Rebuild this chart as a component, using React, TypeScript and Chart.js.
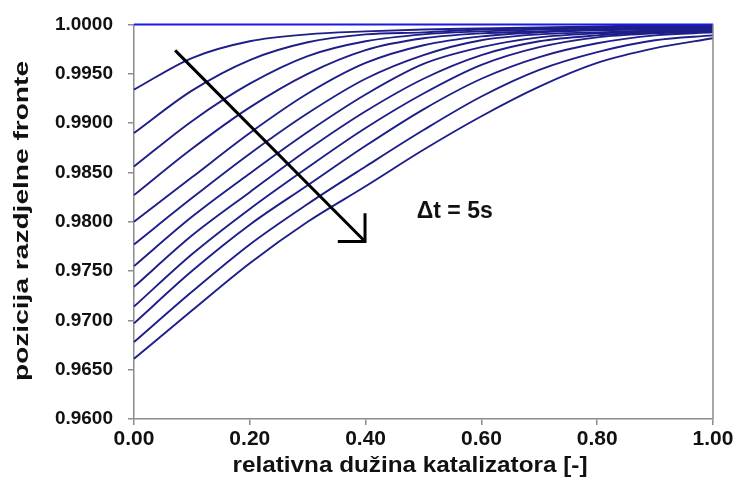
import React, { useEffect, useRef } from 'react';
import Chart from 'chart.js/auto';

// relative catalyst length positions
const xPositions = [0, 0.1, 0.2, 0.3, 0.4, 0.5, 0.6, 0.7, 0.8, 0.9, 1.0];

// front position curves, one per time step (Δt = 5 s)
const curveT0 = [1.0, 1.0, 1.0, 1.0, 1.0, 1.0, 1.0, 1.0, 1.0, 1.0, 1.0];
const curveT1 = [0.9934, 0.9966, 0.9983, 0.999, 0.9993, 0.9995, 0.9996, 0.9997, 0.9998, 0.9999, 0.9999];
const curveT2 = [0.989, 0.9933, 0.9964, 0.9982, 0.999, 0.9992, 0.9995, 0.9996, 0.9997, 0.9998, 0.9998];
const curveT3 = [0.9856, 0.9902, 0.994, 0.9968, 0.9983, 0.999, 0.9993, 0.9995, 0.9996, 0.9997, 0.9998];
const curveT4 = [0.9827, 0.9874, 0.9916, 0.995, 0.9974, 0.9986, 0.9991, 0.9993, 0.9995, 0.9996, 0.9997];
const curveT5 = [0.98, 0.9845, 0.989, 0.993, 0.9961, 0.9979, 0.9988, 0.9992, 0.9994, 0.9995, 0.9997];
const curveT6 = [0.9777, 0.9824, 0.9869, 0.991, 0.9945, 0.9969, 0.9984, 0.999, 0.9992, 0.9994, 0.9996];
const curveT7 = [0.9755, 0.9805, 0.9849, 0.9891, 0.9929, 0.996, 0.9977, 0.9987, 0.9991, 0.9993, 0.9995];
const curveT8 = [0.9734, 0.9786, 0.983, 0.9873, 0.9912, 0.9945, 0.9969, 0.9983, 0.9989, 0.9992, 0.9994];
const curveT9 = [0.9714, 0.9767, 0.9813, 0.9855, 0.9895, 0.993, 0.9959, 0.9977, 0.9987, 0.9991, 0.9993];
const curveT10 = [0.9697, 0.975, 0.9797, 0.9837, 0.9877, 0.9914, 0.9945, 0.9967, 0.9981, 0.9989, 0.9992];
const curveT11 = [0.9678, 0.9729, 0.9777, 0.9818, 0.9856, 0.9893, 0.9927, 0.9954, 0.9972, 0.9984, 0.9989];
const curveT12 = [0.9661, 0.971, 0.9758, 0.98, 0.9836, 0.9873, 0.9907, 0.9937, 0.9961, 0.9976, 0.9986];

const curves = [curveT0, curveT1, curveT2, curveT3, curveT4, curveT5, curveT6, curveT7, curveT8, curveT9, curveT10, curveT11, curveT12];

const yMin = 0.96;
const yMax = 1.0;
const yStep = 0.005;
const xMin = 0;
const xMax = 1;
const xStep = 0.2;

const xTitle = 'relativna dužina katalizatora [-]';
const yTitle = 'pozicija razdjelne fronte';
const annotationText = '\u0394t = 5s';

// arrow in data coordinates
const arrowStart = { x: 0.071, y: 0.99738 };
const arrowEnd = { x: 0.399, y: 0.978 };
const arrowHeadLeftX = 0.352;
const arrowHeadTopY = 0.98085;
const textPos = { x: 0.554, y: 0.981 };

const FONT = '"Liberation Sans", Arial, Helvetica, sans-serif';

function drawStretched(ctx: CanvasRenderingContext2D, text: string, cx: number, cy: number, font: string, targetLen: number, rotate: boolean) {
  ctx.save();
  ctx.font = font;
  const w = ctx.measureText(text).width;
  const s = targetLen / w;
  ctx.translate(cx, cy);
  if (rotate) ctx.rotate(-Math.PI / 2);
  ctx.scale(s, 1);
  ctx.textAlign = 'center';
  ctx.textBaseline = 'middle';
  ctx.fillText(text, 0, 0);
  ctx.restore();
}

export default function App() {
  const canvasRef = useRef<HTMLCanvasElement | null>(null);

  useEffect(() => {
    document.body.style.margin = '0';
    const canvas = canvasRef.current;
    if (!canvas) return;

    const overlay = {
      id: 'overlay',
      afterDatasetsDraw(chart: any) {
        const { ctx, chartArea, scales } = chart;
        const xs = scales.x;
        const ys = scales.y;
        ctx.save();
        // frame right side
        ctx.strokeStyle = '#8c8c8c';
        ctx.lineWidth = 1.5;
        ctx.beginPath();
        ctx.moveTo(chartArea.right, chartArea.top);
        ctx.lineTo(chartArea.right, chartArea.bottom);
        ctx.stroke();
        // arrow
        ctx.strokeStyle = '#000';
        ctx.lineWidth = 3;
        ctx.lineCap = 'butt';
        ctx.beginPath();
        ctx.moveTo(xs.getPixelForValue(arrowStart.x), ys.getPixelForValue(arrowStart.y));
        ctx.lineTo(xs.getPixelForValue(arrowEnd.x), ys.getPixelForValue(arrowEnd.y));
        ctx.stroke();
        ctx.lineJoin = 'miter';
        ctx.beginPath();
        ctx.moveTo(xs.getPixelForValue(arrowHeadLeftX), ys.getPixelForValue(arrowEnd.y));
        ctx.lineTo(xs.getPixelForValue(arrowEnd.x), ys.getPixelForValue(arrowEnd.y));
        ctx.lineTo(xs.getPixelForValue(arrowEnd.x), ys.getPixelForValue(arrowHeadTopY));
        ctx.stroke();
        // annotation text
        ctx.fillStyle = '#111';
        ctx.font = `bold 23px ${FONT}`;
        ctx.textAlign = 'center';
        ctx.textBaseline = 'middle';
        ctx.fillText(annotationText, xs.getPixelForValue(textPos.x), ys.getPixelForValue(textPos.y));
        // axis titles
        drawStretched(ctx, xTitle, 410, 466, `bold 22px ${FONT}`, 355, false);
        drawStretched(ctx, yTitle, 22, 221, `bold 21px ${FONT}`, 320, true);
        ctx.restore();
      },
    };

    const datasets = curves.map((c, i) => ({
      data: c.map((v, j) => ({ x: xPositions[j], y: v })),
      borderColor: i === 0 ? '#1a1ae0' : '#1e1e8a',
      borderWidth: i === 0 ? 2.2 : 1.9,
      pointRadius: 0,
      fill: false,
      cubicInterpolationMode: 'monotone' as const,
      clip: false as any,
    }));

    const chart = new Chart(canvas, {
      type: 'line',
      data: { datasets },
      options: {
        animation: false,
        responsive: false,
        maintainAspectRatio: false,
        events: [],
        layout: { padding: { top: 20, right: 28, bottom: 0, left: 0 } },
        plugins: {
          legend: { display: false },
          tooltip: { enabled: false },
        },
        scales: {
          x: {
            type: 'linear',
            min: xMin,
            max: xMax,
            afterFit(scale: any) {
              scale.height = 84;
            },
            ticks: {
              stepSize: xStep,
              callback: (v: any) => Number(v).toFixed(2),
              color: '#111',
              font: { family: FONT, size: 21, weight: 'bold' },
              padding: 2,
              maxRotation: 0,
            },
            grid: {
              drawOnChartArea: false,
              drawTicks: true,
              tickLength: 6,
              color: '#8c8c8c',
              lineWidth: 1.5,
            },
            border: { display: true, color: '#8c8c8c', width: 1.5 },
            title: { display: false },
          },
          y: {
            type: 'linear',
            min: yMin,
            max: yMax,
            afterFit(scale: any) {
              scale.width = 134;
            },
            ticks: {
              stepSize: yStep,
              callback: (v: any) => Number(v).toFixed(4),
              color: '#111',
              font: { family: FONT, size: 19, weight: 'bold', lineHeight: 1 },
              padding: 15,
            },
            grid: {
              drawOnChartArea: false,
              drawTicks: true,
              tickLength: 6,
              color: '#8c8c8c',
              lineWidth: 1.5,
            },
            border: { display: true, color: '#8c8c8c', width: 1.5 },
            title: { display: false },
          },
        },
      },
      plugins: [overlay],
    });

    return () => {
      chart.destroy();
    };
  }, []);

  return (
    <div style={{ width: 741, height: 503, position: 'relative' }}>
      <canvas ref={canvasRef} width={741} height={503} style={{ display: 'block', width: 741, height: 503 }} />
    </div>
  );
}
